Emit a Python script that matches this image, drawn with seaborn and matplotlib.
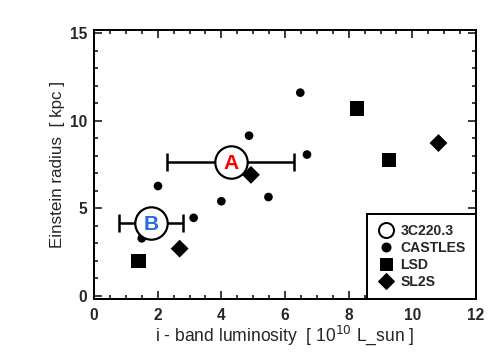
import numpy as np
import pandas as pd
import matplotlib
matplotlib.use('Agg')
import matplotlib.pyplot as plt
import seaborn as sns
from matplotlib.lines import Line2D
from matplotlib.ticker import MultipleLocator

# ---- data ----
castles_lum = [6.48, 4.87, 6.69, 2.01, 5.48, 4.00, 3.13, 1.50]
castles_re = [11.61, 9.15, 8.07, 6.27, 5.64, 5.40, 4.45, 3.28]

lsd_lum = [8.26, 9.26, 1.40]
lsd_re = [10.70, 7.77, 2.00]

sl2s_lum = [10.82, 4.93, 2.69]
sl2s_re = [8.73, 6.91, 2.69]

src_names = ['A', 'B']
src_lum = [4.29, 1.80]
src_re = [7.63, 4.13]
src_err = [2.0, 1.0]
src_colors = ['red', '#1f6fe0']

df = pd.concat([
    pd.DataFrame({'lum': castles_lum, 're': castles_re, 'survey': 'CASTLES'}),
    pd.DataFrame({'lum': lsd_lum, 're': lsd_re, 'survey': 'LSD'}),
    pd.DataFrame({'lum': sl2s_lum, 're': sl2s_re, 'survey': 'SL2S'}),
], ignore_index=True)

sns.set_style('ticks')
plt.rcParams['font.family'] = ['Liberation Sans', 'DejaVu Sans']

fig = plt.figure(figsize=(7, 5), dpi=72)
ax = fig.add_axes([0.1865, 0.169, 0.758, 0.748])

sns.scatterplot(data=df[df.survey == 'CASTLES'], x='lum', y='re', marker='o',
                s=75, color='black', edgecolor='none', ax=ax, zorder=3)
sns.scatterplot(data=df[df.survey == 'LSD'], x='lum', y='re', marker='s',
                s=200, color='black', edgecolor='none', ax=ax, zorder=3)
sns.scatterplot(data=df[df.survey == 'SL2S'], x='lum', y='re', marker='D',
                s=160, color='black', edgecolor='none', ax=ax, zorder=3)

# 3C220.3 images with luminosity error bars
ax.errorbar(src_lum, src_re, xerr=src_err, fmt='none', ecolor='black',
            elinewidth=2.5, capsize=9, capthick=2.5, zorder=4)
ax.scatter(src_lum, src_re, s=1050, facecolor='white', edgecolor='black',
           linewidth=2.2, zorder=5)
for name, x, y, c in zip(src_names, src_lum, src_re, src_colors):
    ax.text(x, y - 0.05, name, color=c, fontsize=21, fontweight='bold',
            ha='center', va='center', zorder=6)

ax.set_xlim(0, 12)
ax.set_ylim(-0.2, 15.2)
ax.xaxis.set_major_locator(MultipleLocator(2))
ax.xaxis.set_minor_locator(MultipleLocator(0.5))
ax.yaxis.set_major_locator(MultipleLocator(5))
ax.yaxis.set_minor_locator(MultipleLocator(1))
ax.tick_params(which='both', direction='in', top=True, right=True,
               width=1.5, color='black')
ax.tick_params(which='major', length=8, labelsize=15.5)
ax.tick_params(axis='x', which='major', pad=9)
ax.tick_params(axis='y', which='major', pad=7)
ax.tick_params(which='minor', length=4)
for lab in ax.get_xticklabels() + ax.get_yticklabels():
    lab.set_fontweight('bold')
for sp in ax.spines.values():
    sp.set_linewidth(2)
    sp.set_color('black')

ax.set_xlabel(r'i - band luminosity  [ 10$^{10}$ L_sun ]', fontsize=17.5, labelpad=0)
ax.set_ylabel('Einstein radius  [ kpc ]', fontsize=17, labelpad=5)

handles = [
    Line2D([], [], marker='o', ls='none', markersize=15, markerfacecolor='white',
           markeredgecolor='black', markeredgewidth=2),
    Line2D([], [], marker='o', ls='none', markersize=9, color='black'),
    Line2D([], [], marker='s', ls='none', markersize=12, color='black'),
    Line2D([], [], marker='D', ls='none', markersize=11, color='black'),
]
leg = ax.legend(handles, ['3C220.3', 'CASTLES', 'LSD', 'SL2S'],
                loc='lower right', bbox_to_anchor=(1, 0), borderaxespad=0,
                fancybox=False, edgecolor='black', framealpha=1,
                prop={'size': 14, 'weight': 'bold'}, handlelength=1.1,
                handletextpad=0.5, labelspacing=0.2, borderpad=0.75)
leg.get_frame().set_linewidth(2)

fig.savefig('out.png', dpi=72)
